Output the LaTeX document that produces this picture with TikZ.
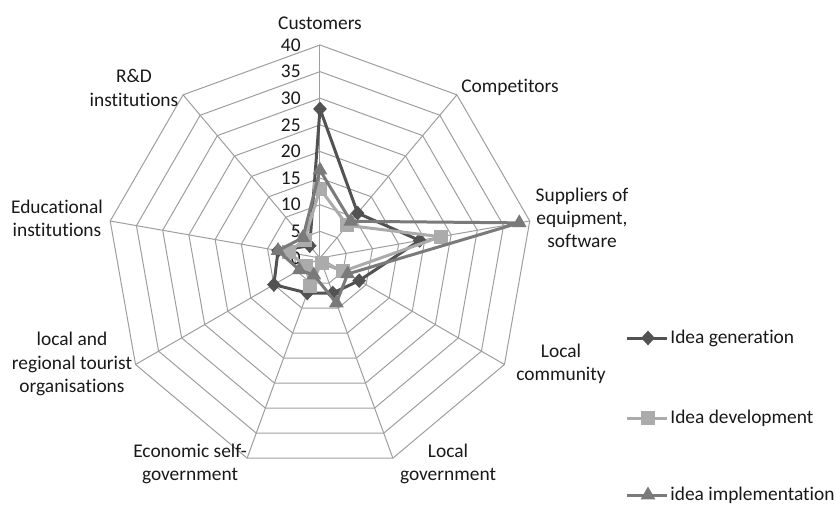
\documentclass[tikz,border=0pt]{standalone}
\usepackage{fontspec}
\setmainfont{Carlito}[Ligatures={NoCommon,NoContextual}]
\usetikzlibrary{shapes.geometric}
\newcommand{\unitlen}{5.325}

\begin{document}
\begin{tikzpicture}[x=0.5pt,y=0.5pt,
		font=\fontsize{9.7}{11.6}\selectfont,
		gridline/.style={draw=black!38,line width=0.5pt},
		genline/.style={draw=black!68,line width=1.5pt,line join=round},
		devline/.style={draw=black!33,line width=1.5pt,line join=round},
		impline/.style={draw=black!52,line width=1.5pt,line join=round},
		genmark/.style={diamond,fill=black!68,inner sep=0pt,minimum width=7pt,minimum height=7.5pt},
		devmark/.style={rectangle,fill=black!33,inner sep=0pt,minimum size=7pt},
		impmark/.style={regular polygon,regular polygon sides=3,fill=black!52,inner sep=0pt,minimum size=8.5pt},
		axislabel/.style={align=center,inner sep=0pt,text=black!90},
		ticklabel/.style={anchor=east,inner sep=0pt,text=black!90}]
				\useasboundingbox (-320,-246) rectangle (516,258);
				\coordinate (o) at (0,0);
				% grid
				\foreach \r in {1,...,8}
					\draw[gridline] (90:{\r*5*\unitlen}) \foreach \i in {1,...,8} { -- ({90-40*\i}:{\r*5*\unitlen}) } -- cycle;
				\foreach \i in {0,...,8} {
					\coordinate (v\i) at ({90-40*\i}:{40*\unitlen});
					\draw[gridline] (o) -- (v\i);
				}
				\foreach \t in {0,5,...,40}
					\node[ticklabel] (t\t) at (-19,{\t*\unitlen}) {\t};
				% axis labels
				\node[axislabel] (cust) at (0,235) {Customers};
				\node[axislabel] (comp) at (190,171) {Competitors};
				\node[axislabel] (supp) at (262,40) {Suppliers of\\equipment,\\software};
				\node[axislabel] (lcom) at (241,-106) {Local\\community};
				\node[axislabel] (lgov) at (128,-206) {Local\\government};
				\node[axislabel] (esg) at (-130,-206) {Economic self-\\government};
				\node[axislabel] (tour) at (-248,-106) {local and\\regional tourist\\organisations};
				\node[axislabel] (edu) at (-263,40) {Educational\\institutions};
				\node[axislabel] (rnd) at (-186,170) {R\&D\\institutions};
				% series
				\foreach \v [count=\i from 0] in {28,11,19,8.5,7,7,10,8,3}
					\coordinate (g\i) at ({90-40*\i}:{\v*\unitlen});
				\foreach \v [count=\i from 0] in {13,8,23,5,1,5.5,3,6,4.5}
					\coordinate (d\i) at ({90-40*\i}:{\v*\unitlen});
				\foreach \v [count=\i from 0] in {16.5,9,38,6,9,3.4,4.5,8,5}
					\coordinate (p\i) at ({90-40*\i}:{\v*\unitlen});
				\draw[genline] (g0) -- (g1) -- (g2) -- (g3) -- (g4) -- (g5) -- (g6) -- (g7) -- (g8) -- cycle;
				\foreach \i in {0,...,8}
					\node[genmark] (gm\i) at (g\i) {};
				\draw[devline] (d0) -- (d1) -- (d2) -- (d3) -- (d4) -- (d5) -- (d6) -- (d7) -- (d8) -- cycle;
				\foreach \i in {0,...,8}
					\node[devmark] (dm\i) at (d\i) {};
				\draw[impline] (p0) -- (p1) -- (p2) -- (p3) -- (p4) -- (p5) -- (p6) -- (p7) -- (p8) -- cycle;
				\foreach \i in {0,...,8}
					\node[impmark] (pm\i) at (p\i) {};
				% legend
				\coordinate (gla) at (307,-80);
				\coordinate (glb) at (347,-80);
				\draw[genline] (gla) -- (glb);
				\node[genmark] (glm) at (328,-80) {};
				\node[anchor=west,inner sep=0pt,text=black!90] (glt) at (350,-80) {Idea generation};
				\coordinate (dla) at (307,-160);
				\coordinate (dlb) at (347,-160);
				\draw[devline] (dla) -- (dlb);
				\node[devmark] (dlm) at (328,-160) {};
				\node[anchor=west,inner sep=0pt,text=black!90] (dlt) at (350,-160) {Idea development};
				\coordinate (pla) at (307,-237);
				\coordinate (plb) at (347,-237);
				\draw[impline] (pla) -- (plb);
				\node[impmark] (plm) at (328,-237) {};
				\node[anchor=west,inner sep=0pt,text=black!90] (plt) at (350,-237) {idea implementation};
			\end{tikzpicture}
\end{document}
